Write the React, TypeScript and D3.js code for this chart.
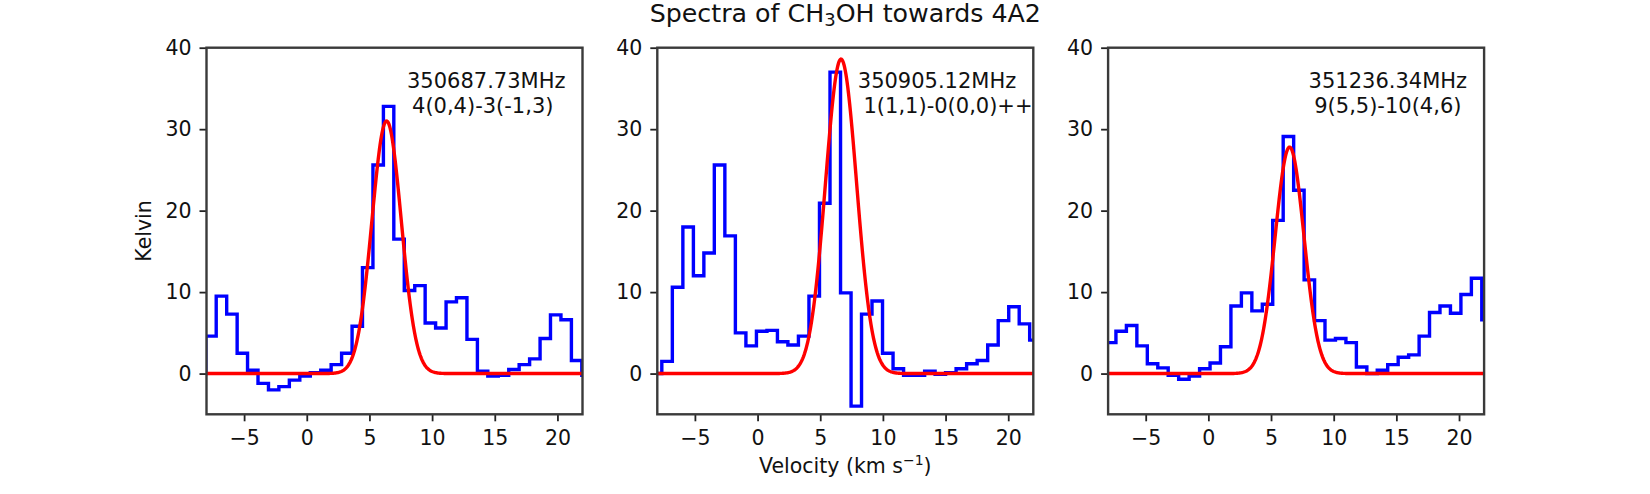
import React, { useEffect, useRef } from 'react';
import * as d3 from 'd3';

// channel centres (km/s) and brightness (K) for each transition
const velocity1 = [-8.47, -7.64, -6.81, -5.97, -5.14, -4.31, -3.47, -2.64, -1.81, -0.97, -0.14, 0.70, 1.53, 2.36, 3.20, 4.03, 4.86, 5.70, 6.53, 7.36, 8.20, 9.03, 9.86, 10.70, 11.53, 12.36, 13.20, 14.03, 14.86, 15.70, 16.53, 17.36, 18.20, 19.03, 19.86, 20.70, 21.53, 22.36];
const kelvin1 = [0, 4.6, 9.5, 7.3, 2.5, 0.4, -1.2, -2.0, -1.6, -0.8, -0.3, 0.1, 0.4, 1.1, 2.5, 5.8, 13.0, 25.6, 32.8, 16.5, 10.2, 10.8, 6.2, 5.6, 8.8, 9.3, 4.2, 0.3, -0.3, -0.2, 0.5, 1.1, 1.8, 4.3, 7.2, 6.6, 1.6, -0.2];

const velocity2 = [-8.06, -7.22, -6.38, -5.54, -4.70, -3.87, -3.03, -2.19, -1.35, -0.51, 0.33, 1.17, 2.00, 2.84, 3.68, 4.52, 5.36, 6.20, 7.04, 7.88, 8.71, 9.55, 10.39, 11.23, 12.07, 12.91, 13.75, 14.58, 15.42, 16.26, 17.10, 17.94, 18.78, 19.62, 20.46, 21.29, 22.13];
const kelvin2 = [0, 1.5, 10.6, 18.0, 12.0, 14.8, 25.6, 16.9, 5.0, 3.4, 5.2, 5.3, 3.9, 3.5, 4.6, 9.5, 20.9, 37.0, 9.9, -4.0, 7.3, 8.9, 2.5, 0.6, -0.2, -0.2, 0.3, -0.1, 0.1, 0.6, 1.2, 1.6, 3.5, 6.5, 8.2, 6.1, 4.1];

const velocity3 = [-8.63, -7.79, -6.96, -6.12, -5.29, -4.45, -3.62, -2.79, -1.95, -1.12, -0.28, 0.55, 1.38, 2.22, 3.05, 3.89, 4.72, 5.55, 6.39, 7.22, 8.06, 8.89, 9.72, 10.56, 11.39, 12.23, 13.06, 13.89, 14.73, 15.56, 16.40, 17.23, 18.06, 18.90, 19.73, 20.57, 21.40, 22.23];
const kelvin3 = [3.6, 3.8, 5.2, 5.9, 3.4, 1.2, 0.7, -0.2, -0.7, -0.3, 0.6, 1.3, 3.3, 8.3, 9.9, 7.7, 8.5, 18.8, 29.1, 22.5, 11.5, 6.5, 4.1, 4.3, 3.8, 0.8, 0.0, 0.4, 1.1, 2.0, 2.3, 4.6, 7.5, 8.3, 7.4, 9.7, 11.7, 6.6];

// single gaussian fits: peak (K), centre and sigma (km/s)
const fitPeak = [31.0, 38.6, 27.8];
const fitCentre = [6.37, 6.66, 6.48];
const fitSigma = [1.17, 1.24, 1.15];

const freqLabels = ['350687.73MHz', '350905.12MHz', '351236.34MHz'];
const qnLabels = ['4(0,4)-3(-1,3)', '1(1,1)-0(0,0)++', '9(5,5)-10(4,6)'];

const xTicks = [-5, 0, 5, 10, 15, 20];
const yTicks = [0, 10, 20, 30, 40];

const spectra = [
  { v: velocity1, t: kelvin1 },
  { v: velocity2, t: kelvin2 },
  { v: velocity3, t: kelvin3 },
];

const W = 1650;
const H = 494;
const axLeft = 206.5;
const axPitch = 450.8;
const axW = 376;
const axTop = 47.7;
const axH = 366.6;
const font = 'DejaVu Sans';
const qnShift = [-3.5, 11, 0];

const App = () => {
  const svgRef = useRef(null);

  useEffect(() => {
    const svg = d3.select(svgRef.current);
    svg.selectAll('*').remove();

    const x = d3.scaleLinear().domain([-8, 22]).range([0, axW]);
    const y = d3.scaleLinear().domain([-5, 40]).range([axH, 0]);

    const stepLine = d3.line<[number, number]>()
      .x(d => x(d[0]))
      .y(d => y(d[1]))
      .curve(d3.curveStep);

    spectra.forEach((s, i) => {
      const g = svg.append('g')
        .attr('transform', `translate(${axLeft + i * axPitch},${axTop})`);

      g.append('clipPath').attr('id', `clip${i}`)
        .append('rect').attr('width', axW).attr('height', axH);

      const plot = g.append('g').attr('clip-path', `url(#clip${i})`);

      plot.append('path')
        .datum(d3.zip(s.v, s.t) as [number, number][])
        .attr('d', stepLine)
        .attr('fill', 'none')
        .attr('stroke', '#0000ff')
        .attr('stroke-width', 3.4);

      const gauss = (v: number) =>
        fitPeak[i] * Math.exp(-((v - fitCentre[i]) ** 2) / (2 * fitSigma[i] ** 2));
      const grid = d3.range(-8, 22.001, 0.05);

      plot.append('path')
        .datum(grid)
        .attr('d', d3.line<number>().x(v => x(v)).y(v => y(gauss(v))))
        .attr('fill', 'none')
        .attr('stroke', '#ff0000')
        .attr('stroke-width', 3.4);

      const xAxis = g.append('g')
        .attr('transform', `translate(0,${axH})`)
        .call(d3.axisBottom(x).tickValues(xTicks).tickSize(7).tickPadding(9).tickSizeOuter(0));
      const yAxis = g.append('g')
        .call(d3.axisLeft(y).tickValues(yTicks).tickSize(7).tickPadding(8).tickSizeOuter(0));

      [xAxis, yAxis].forEach(a => {
        a.select('.domain').remove();
        a.attr('font-size', 20.5).attr('font-family', font);
        a.selectAll('line').attr('stroke', '#222').attr('stroke-width', 1.8);
        a.selectAll('text').attr('fill', '#111');
      });

      g.append('rect')
        .attr('width', axW)
        .attr('height', axH)
        .attr('fill', 'none')
        .attr('stroke', '#3a3a3a')
        .attr('stroke-width', 2.4);

      const cx = axW * 0.744;
      g.append('text')
        .attr('x', cx).attr('y', 40.5)
        .attr('text-anchor', 'middle')
        .attr('font-family', font).attr('font-size', 21).attr('fill', '#111')
        .text(freqLabels[i]);
      g.append('text')
        .attr('x', cx + qnShift[i]).attr('y', 65.5)
        .attr('text-anchor', 'middle')
        .attr('font-family', font).attr('font-size', 21).attr('fill', '#111')
        .text(qnLabels[i]);
    });

    const midX = axLeft + axPitch + axW / 2;

    const title = svg.append('text')
      .attr('x', midX).attr('y', 22)
      .attr('text-anchor', 'middle')
      .attr('font-family', font).attr('font-size', 25.3).attr('fill', '#111');
    title.append('tspan').text('Spectra of CH');
    title.append('tspan').attr('font-size', 18).attr('dy', 4).text('3');
    title.append('tspan').attr('dy', -4).text('OH towards 4A2');

    const xLabel = svg.append('text')
      .attr('x', midX).attr('y', 473)
      .attr('text-anchor', 'middle')
      .attr('font-family', font).attr('font-size', 20.5).attr('fill', '#111');
    xLabel.append('tspan').text('Velocity (km s');
    xLabel.append('tspan').attr('font-size', 14).attr('dy', -8).text('−1');
    xLabel.append('tspan').attr('dy', 8).text(')');

    svg.append('text')
      .attr('transform', `translate(151,${axTop + axH / 2}) rotate(-90)`)
      .attr('text-anchor', 'middle')
      .attr('font-family', font).attr('font-size', 20.5).attr('fill', '#111')
      .text('Kelvin');
  }, []);

  return (
    <svg
      ref={svgRef}
      width={W}
      height={H}
      style={{ position: 'absolute', left: 0, top: 0, background: '#fff' }}
    />
  );
};

export default App;
